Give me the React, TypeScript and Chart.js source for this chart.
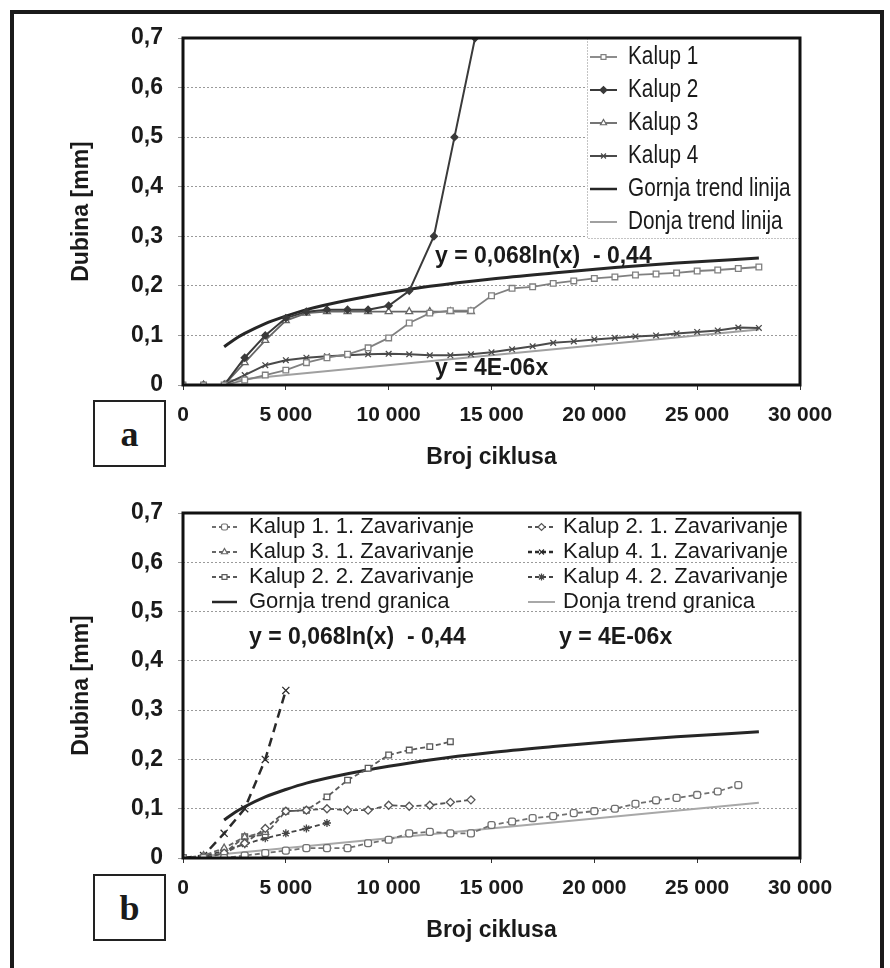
import React, { useEffect, useRef } from "react";
import { Chart, registerables } from "chart.js";
import { drawPoint } from "chart.js/helpers";

Chart.register(...registerables);

const FONT = "'Liberation Sans', Arial, Helvetica, sans-serif";

// ---------- axis ticks ----------
const yTicks = [0, 0.1, 0.2, 0.3, 0.4, 0.5, 0.6, 0.7];
const xTicks = [0, 5000, 10000, 15000, 20000, 25000, 30000];

// ---------- chart a data ----------
const cyclesA = [0, 1000, 2000, 3000, 4000, 5000, 6000, 7000, 8000, 9000, 10000, 11000, 12000, 13000, 14000, 15000, 16000, 17000, 18000, 19000, 20000, 21000, 22000, 23000, 24000, 25000, 26000, 27000, 28000];
const kalup1A = [0, 0, 0, 0.01, 0.02, 0.03, 0.045, 0.055, 0.062, 0.075, 0.095, 0.125, 0.145, 0.15, 0.15, 0.18, 0.195, 0.198, 0.205, 0.21, 0.215, 0.218, 0.222, 0.224, 0.226, 0.23, 0.232, 0.235, 0.238];
const kalup2AX = [0, 1000, 2000, 3000, 4000, 5000, 6000, 7000, 8000, 9000, 10000, 11000, 12200, 13200, 14200];
const kalup2AY = [0, 0, 0, 0.055, 0.1, 0.135, 0.148, 0.152, 0.152, 0.152, 0.16, 0.19, 0.3, 0.5, 0.7];
const kalup3AX = [0, 1000, 2000, 3000, 4000, 5000, 6000, 7000, 8000, 9000, 10000, 11000, 12000, 13000, 14000];
const kalup3AY = [0, 0, 0, 0.045, 0.09, 0.13, 0.145, 0.148, 0.148, 0.148, 0.148, 0.148, 0.148, 0.148, 0.148];
const kalup4A = [0, 0, 0, 0.02, 0.04, 0.05, 0.055, 0.058, 0.06, 0.062, 0.063, 0.062, 0.06, 0.06, 0.062, 0.066, 0.072, 0.078, 0.085, 0.088, 0.092, 0.095, 0.098, 0.1, 0.104, 0.107, 0.11, 0.116, 0.115];

// trend lines
const upperTrendX = [2000, 2500, 3000, 4000, 5000, 6000, 8000, 10000, 12000, 15000, 18000, 21000, 24000, 28000];
const upperTrendY = [0.077, 0.092, 0.104, 0.124, 0.139, 0.152, 0.171, 0.186, 0.199, 0.214, 0.226, 0.237, 0.246, 0.256];
const lowerTrendAX = [2000, 28000];
const lowerTrendAY = [0.008, 0.112];
const lowerTrendBX = [1000, 28000];
const lowerTrendBY = [0.004, 0.112];

// ---------- chart b data ----------
const k11X = [0, 1000, 2000, 3000, 4000, 5000, 6000, 7000, 8000, 9000, 10000, 11000, 12000, 13000, 14000, 15000, 16000, 17000, 18000, 19000, 20000, 21000, 22000, 23000, 24000, 25000, 26000, 27000];
const k11Y = [0, 0, 0, 0.005, 0.01, 0.015, 0.02, 0.02, 0.02, 0.03, 0.037, 0.05, 0.053, 0.05, 0.05, 0.067, 0.074, 0.081, 0.085, 0.091, 0.095, 0.1, 0.11, 0.117, 0.122, 0.128, 0.135, 0.148];
const k21X = [0, 1000, 2000, 3000, 4000, 5000, 6000, 7000, 8000, 9000, 10000, 11000, 12000, 13000, 14000];
const k21Y = [0, 0, 0.01, 0.03, 0.06, 0.095, 0.097, 0.1, 0.097, 0.097, 0.107, 0.105, 0.107, 0.113, 0.118];
const k31X = [0, 1000, 2000, 3000, 4000];
const k31Y = [0, 0.005, 0.02, 0.043, 0.052];
const k41X = [0, 1000, 2000, 3000, 4000, 5000];
const k41Y = [0, 0.005, 0.05, 0.1, 0.2, 0.34];
const k22X = [0, 1000, 2000, 3000, 4000, 5000, 6000, 7000, 8000, 9000, 10000, 11000, 12000, 13000];
const k22Y = [0, 0, 0.01, 0.043, 0.047, 0.095, 0.097, 0.124, 0.158, 0.182, 0.209, 0.219, 0.226, 0.236];
const k42X = [0, 1000, 2000, 3000, 4000, 5000, 6000, 7000];
const k42Y = [0, 0.003, 0.015, 0.028, 0.04, 0.05, 0.06, 0.071];

const labelsA = ["Kalup 1", "Kalup 2", "Kalup 3", "Kalup 4", "Gornja trend linija", "Donja trend linija"];
const labelsB = [
  "Kalup 1. 1. Zavarivanje",
  "Kalup 2. 1. Zavarivanje",
  "Kalup 3. 1. Zavarivanje",
  "Kalup 4. 1. Zavarivanje",
  "Kalup 2. 2. Zavarivanje",
  "Kalup 4. 2. Zavarivanje",
  "Gornja trend granica",
  "Donja trend granica",
];
const eqUpper = "y = 0,068ln(x)  - 0,44";
const eqLower = "y = 4E-06x";

const pts = (xs: number[], ys: number[]) => xs.map((x, i) => ({ x, y: ys[i] }));

function series(label: string, xs: number[], ys: number[], s: any) {
  return {
    label,
    data: pts(xs, ys),
    borderColor: s.color,
    borderWidth: s.width ?? 1.8,
    borderDash: s.dash ?? [],
    pointStyle: s.point ?? false,
    pointRadius: s.point ? s.r ?? 4 : 0,
    pointBorderColor: s.color,
    pointBackgroundColor: s.fill ?? "#ffffff",
    pointBorderWidth: 1.3,
    tension: s.tension ?? 0,
    cubicInterpolationMode: s.tension ? "monotone" : "default",
    fill: false,
  };
}

function decorPlugin(cfg: any) {
  return {
    id: "decor",
    afterDraw(chart: any) {
      const { ctx, chartArea: a } = chart;
      ctx.save();
      if (cfg.box) {
        const b = cfg.box;
        ctx.fillStyle = "#ffffff";
        ctx.fillRect(b.x, b.y, b.w, b.h);
        ctx.setLineDash([1, 2]);
        ctx.strokeStyle = "#888";
        ctx.lineWidth = 1;
        ctx.strokeRect(b.x + 0.5, b.y + 0.5, b.w, b.h);
        ctx.setLineDash([]);
      }
      cfg.items.forEach((it: any) => {
        const ds = chart.data.datasets[it.i];
        ctx.save();
        ctx.strokeStyle = ds.borderColor;
        ctx.lineWidth = Math.min(ds.borderWidth, 2.5);
        ctx.setLineDash(ds.borderDash && ds.borderDash.length ? [4, 3] : []);
        ctx.beginPath();
        ctx.moveTo(it.x0, it.y);
        ctx.lineTo(it.x1, it.y);
        ctx.stroke();
        ctx.setLineDash([]);
        if (ds.pointStyle) {
          ctx.fillStyle = ds.pointBackgroundColor;
          ctx.strokeStyle = ds.pointBorderColor;
          ctx.lineWidth = 1.2;
          drawPoint(ctx, { pointStyle: ds.pointStyle, radius: 3.5, borderWidth: 1.2, rotation: 0 }, (it.x0 + it.x1) / 2, it.y);
        }
        ctx.restore();
        ctx.fillStyle = "#1a1a1a";
        ctx.font = cfg.font;
        ctx.textAlign = "left";
        ctx.textBaseline = "middle";
        ctx.save();
        ctx.translate(it.tx, it.y);
        ctx.scale(cfg.sx, 1);
        ctx.fillText(ds.label, 0, 0);
        ctx.restore();
      });
      ctx.fillStyle = "#1a1a1a";
      ctx.font = "bold 23px " + FONT;
      ctx.textAlign = "left";
      ctx.textBaseline = "middle";
      cfg.eqs.forEach((e: any) => ctx.fillText(e.t, e.x, e.y));
      ctx.strokeStyle = "#111";
      ctx.lineWidth = 3;
      ctx.strokeRect(a.left, a.top, a.right - a.left, a.bottom - a.top);
      ctx.restore();
    },
  };
}

function makeOptions(xHeight: number, tickPad: number, titlePad: number) {
  return {
    responsive: false,
    animation: false as const,
    devicePixelRatio: 1,
    layout: { padding: { left: 0, right: 90, top: 0, bottom: 0 } },
    plugins: { legend: { display: false }, tooltip: { enabled: false }, title: { display: false } },
    scales: {
      x: {
        type: "linear" as const,
        min: 0,
        max: 30000,
        afterFit: (s: any) => {
          s.height = xHeight;
        },
        afterBuildTicks: (s: any) => {
          s.ticks = xTicks.map((v) => ({ value: v }));
        },
        grid: { drawOnChartArea: false, drawTicks: true, tickLength: 5, color: "#333", tickColor: "#333" },
        border: { display: false },
        ticks: {
          autoSkip: false,
          maxRotation: 0,
          padding: tickPad,
          color: "#1a1a1a",
          font: { family: FONT, size: 21, weight: "bold" as const },
          callback: (v: any) => (v === 0 ? "0" : `${Math.round(v / 1000)} 000`),
        },
        title: {
          display: true,
          text: "Broj ciklusa",
          color: "#1a1a1a",
          font: { family: FONT, size: 23, weight: "bold" as const },
          padding: { top: 0, bottom: titlePad },
        },
      },
      y: {
        min: 0,
        max: 0.7,
        afterFit: (s: any) => {
          s.width = 183;
        },
        afterBuildTicks: (s: any) => {
          s.ticks = yTicks.map((v) => ({ value: v }));
        },
        grid: { color: "#9a9a9a", lineWidth: 1, drawTicks: true, tickLength: 5, tickColor: "#9a9a9a" },
        border: { display: false, dash: [2, 2] },
        ticks: {
          padding: 15,
          color: "#1a1a1a",
          font: { family: FONT, size: 23, weight: "bold" as const },
          callback: (v: any) => (v === 0 ? "0" : Number(v).toFixed(1).replace(".", ",")),
        },
        title: {
          display: true,
          text: "Dubina [mm]",
          color: "#1a1a1a",
          font: { family: FONT, size: 23, weight: "bold" as const },
          padding: { top: 68, bottom: 0 },
        },
      },
    },
  };
}

function ChartA() {
  const ref = useRef<HTMLCanvasElement>(null);
  useEffect(() => {
    const datasets: any[] = [
      series(labelsA[0], cyclesA, kalup1A, { color: "#808080", point: "rect", r: 4 }),
      series(labelsA[1], kalup2AX, kalup2AY, { color: "#3a3a3a", point: "rectRot", r: 3.5, fill: "#3a3a3a", width: 2 }),
      series(labelsA[2], kalup3AX, kalup3AY, { color: "#666666", point: "triangle", r: 4 }),
      series(labelsA[3], cyclesA, kalup4A, { color: "#4a4a4a", point: "crossRot", r: 4, width: 2 }),
      series(labelsA[4], upperTrendX, upperTrendY, { color: "#262626", width: 3, tension: 0.4 }),
      series(labelsA[5], lowerTrendAX, lowerTrendAY, { color: "#a0a0a0", width: 2 }),
    ];
    const opts: any = makeOptions(99, 13, 13);
    opts.layout.padding.top = 38;
    const chart = new Chart(ref.current as HTMLCanvasElement, {
      type: "line",
      data: { datasets },
      options: opts,
      plugins: [
        decorPlugin({
          box: { x: 587, y: 38, w: 213, h: 200 },
          font: "25px " + FONT,
          sx: 0.83,
          items: [0, 1, 2, 3, 4, 5].map((i) => ({ i, x0: 590, x1: 617, tx: 628, y: 57 + 33 * i })),
          eqs: [
            { t: eqUpper, x: 435, y: 257 },
            { t: eqLower, x: 435, y: 369 },
          ],
        }),
      ],
    });
    return () => chart.destroy();
  }, []);
  return <canvas ref={ref} width={890} height={484} style={{ position: "absolute", left: 0, top: 0 }} />;
}

function ChartB() {
  const ref = useRef<HTMLCanvasElement>(null);
  useEffect(() => {
    const datasets: any[] = [
      series(labelsB[0], k11X, k11Y, { color: "#707070", point: "rectRounded", r: 4, dash: [5, 3] }),
      series(labelsB[1], k21X, k21Y, { color: "#555555", point: "rectRot", r: 4, dash: [5, 3] }),
      series(labelsB[2], k31X, k31Y, { color: "#666666", point: "triangle", r: 4, dash: [5, 3] }),
      series(labelsB[3], k41X, k41Y, { color: "#2a2a2a", point: "crossRot", r: 5, dash: [9, 6], width: 2.5 }),
      series(labelsB[4], k22X, k22Y, { color: "#5a5a5a", point: "rect", r: 4, dash: [5, 3] }),
      series(labelsB[5], k42X, k42Y, { color: "#444444", point: "star", r: 4, dash: [5, 3] }),
      series(labelsB[6], upperTrendX, upperTrendY, { color: "#262626", width: 3, tension: 0.4 }),
      series(labelsB[7], lowerTrendBX, lowerTrendBY, { color: "#a8a8a8", width: 2 }),
    ];
    const opts: any = makeOptions(110, 13, 24);
    opts.layout.padding.top = 29;
    const chart = new Chart(ref.current as HTMLCanvasElement, {
      type: "line",
      data: { datasets },
      options: opts,
      plugins: [
        decorPlugin({
          font: "22px " + FONT,
          sx: 1,
          items: [0, 1, 2, 3, 4, 5, 6, 7].map((i) => {
            const col = i % 2;
            const row = Math.floor(i / 2);
            return col === 0
              ? { i, x0: 212, x1: 237, tx: 249, y: 43 + 25 * row }
              : { i, x0: 528, x1: 555, tx: 563, y: 43 + 25 * row };
          }),
          eqs: [
            { t: eqUpper, x: 249, y: 154 },
            { t: eqLower, x: 559, y: 154 },
          ],
        }),
      ],
    });
    return () => chart.destroy();
  }, []);
  return <canvas ref={ref} width={890} height={484} style={{ position: "absolute", left: 0, top: 484 }} />;
}

const boxStyle: React.CSSProperties = {
  position: "absolute",
  width: 69,
  height: 63,
  border: "2px solid #222",
  display: "flex",
  alignItems: "center",
  justifyContent: "center",
  fontFamily: "'Liberation Serif', 'DejaVu Serif', serif",
  fontWeight: "bold",
  fontSize: 36,
  color: "#1a1a1a",
  background: "#fff",
};

export default function App() {
  return (
    <div
      style={{
        position: "fixed",
        left: 0,
        top: 0,
        width: 890,
        height: 968,
        background: "#ffffff",
        overflow: "hidden",
      }}
    >
      <div
        style={{
          position: "absolute",
          left: 10,
          top: 10,
          width: 866,
          height: 980,
          border: "4px solid #1a1a1a",
        }}
      />
      <ChartA />
      <ChartB />
      <div style={{ ...boxStyle, left: 93, top: 400 }}>a</div>
      <div style={{ ...boxStyle, left: 93, top: 874 }}>b</div>
    </div>
  );
}
